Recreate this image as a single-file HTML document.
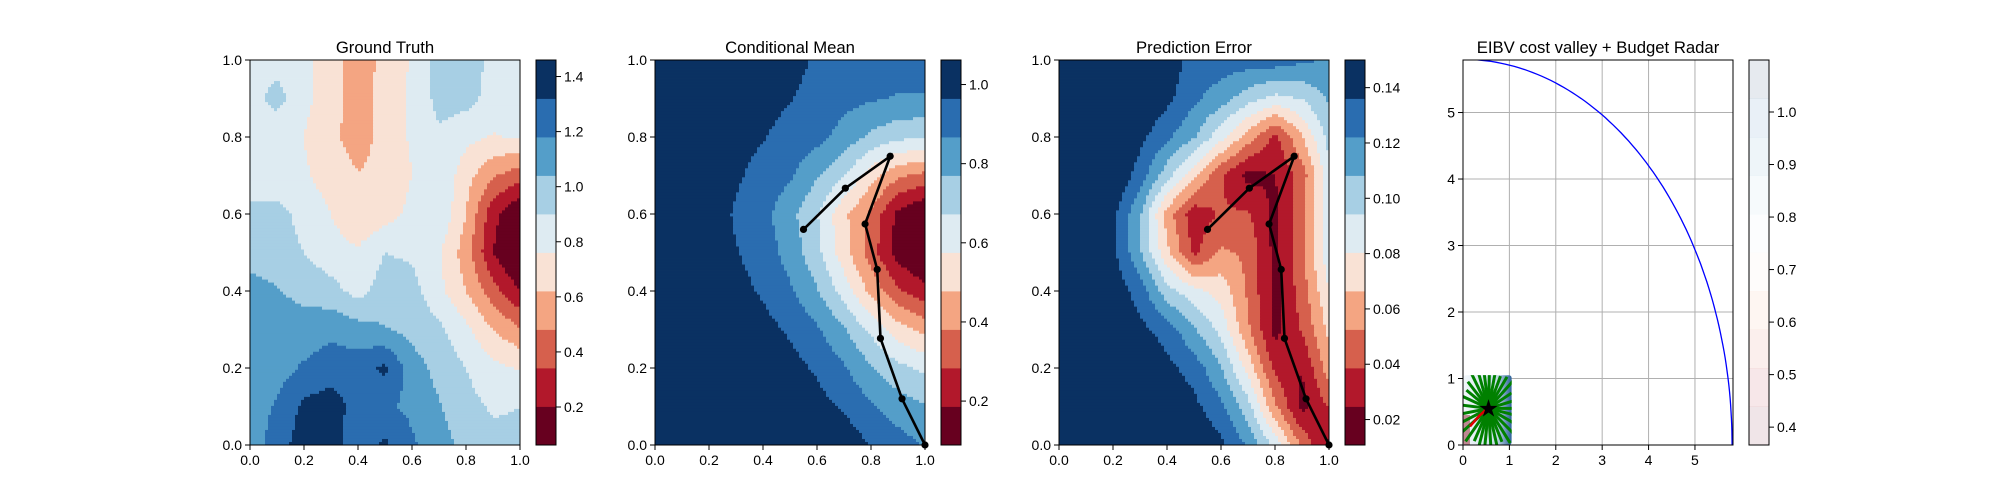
<!DOCTYPE html>
<html><head><meta charset="utf-8"><style>
html,body{margin:0;padding:0;background:#fff;}
svg{display:block;font-family:"Liberation Sans","DejaVu Sans",sans-serif;}
</style></head><body>
<svg id="fig" width="2000" height="500" viewBox="0 0 2000 500" xmlns="http://www.w3.org/2000/svg">
<rect width="2000" height="500" fill="#fff"/>
</svg>
<script>
// ---------- data ----------
const gtRows = [ // y = 1.0 down to 0.0, x = 0..1 step 0.1
[0.83,0.85,0.80,0.68,0.55,0.66,0.78,0.95,0.95,0.88,0.82],
[0.85,0.95,0.80,0.68,0.55,0.68,0.78,0.95,0.95,0.85,0.82],
[0.80,0.80,0.76,0.66,0.55,0.68,0.78,0.88,0.80,0.75,0.78],
[0.80,0.80,0.78,0.70,0.63,0.66,0.76,0.88,0.68,0.50,0.40],
[0.95,0.95,0.85,0.76,0.65,0.70,0.80,0.88,0.62,0.25,0.05],
[0.97,0.97,0.90,0.82,0.78,0.90,0.88,0.78,0.55,0.20,0.00],
[1.10,1.05,1.00,0.95,0.85,0.97,0.95,0.80,0.62,0.40,0.20],
[1.10,1.10,1.10,1.15,1.10,1.05,1.00,0.93,0.80,0.62,0.50],
[1.10,1.12,1.20,1.25,1.25,1.35,1.10,1.00,0.90,0.80,0.75],
[1.10,1.20,1.35,1.40,1.25,1.20,1.15,1.05,0.95,0.88,0.90],
[1.10,1.25,1.40,1.40,1.20,1.35,1.20,1.10,1.00,0.95,0.95]];
const cmRows = [
[1.05,1.05,1.05,1.05,1.05,1.00,0.95,0.93,0.92,0.92,0.92],
[1.05,1.05,1.05,1.05,1.00,0.97,0.93,0.90,0.88,0.86,0.86],
[1.05,1.05,1.05,1.00,0.97,0.93,0.90,0.83,0.75,0.70,0.68],
[1.05,1.05,1.05,0.98,0.93,0.88,0.78,0.68,0.52,0.40,0.35],
[1.05,1.05,1.03,0.95,0.90,0.80,0.68,0.50,0.36,0.16,0.08],
[1.05,1.05,1.03,0.97,0.92,0.83,0.70,0.52,0.33,0.14,0.06],
[1.05,1.05,1.05,1.00,0.95,0.88,0.78,0.63,0.45,0.30,0.22],
[1.05,1.05,1.05,1.05,1.00,0.95,0.88,0.78,0.65,0.52,0.45],
[1.05,1.05,1.05,1.05,1.05,1.00,0.95,0.88,0.78,0.70,0.65],
[1.05,1.05,1.05,1.05,1.05,1.05,1.00,0.95,0.88,0.82,0.78],
[1.05,1.05,1.05,1.05,1.05,1.05,1.05,1.03,0.96,0.91,0.86]];
const peRows = [
[.15,.15,.15,.15,.145,.13,.13,.13,.13,.125,.12],
[.15,.15,.15,.15,.14,.125,.115,.10,.09,.095,.11],
[.15,.15,.15,.14,.125,.11,.085,.06,.035,.065,.10],
[.15,.15,.15,.13,.10,.07,.04,.02,.025,.045,.09],
[.15,.15,.14,.11,.06,.03,.04,.04,.02,.05,.09],
[.15,.15,.14,.11,.07,.035,.055,.05,.02,.05,.09],
[.15,.15,.145,.13,.10,.085,.075,.05,.02,.045,.08],
[.15,.15,.15,.14,.13,.11,.09,.055,.02,.04,.07],
[.15,.15,.15,.15,.14,.13,.11,.075,.035,.025,.06],
[.15,.15,.15,.15,.15,.14,.125,.10,.055,.02,.04],
[.15,.15,.15,.15,.15,.15,.14,.12,.09,.05,.02]];
const pathX = [0.55,0.705,0.871,0.778,0.823,0.835,0.915,1.0];
const pathY = [0.56,0.667,0.75,0.574,0.456,0.277,0.12,0.0];
const unitTicks = ["0.0","0.2","0.4","0.6","0.8","1.0"];
const gtCbTicks = [0.2,0.4,0.6,0.8,1.0,1.2,1.4];
const cmCbTicks = [0.2,0.4,0.6,0.8,1.0];
const peCbTicks = [0.02,0.04,0.06,0.08,0.10,0.12,0.14];
const radarCbTicks = [0.4,0.5,0.6,0.7,0.8,0.9,1.0];
const radarTicks = [0,1,2,3,4,5];
const radarRadius = 5.8;
const starX = 0.55, starY = 0.55;
const redCurveX = [0.15,0.25,0.35,0.45,0.52];
const redCurveY = [0.28,0.36,0.44,0.50,0.56];
const bushAngles = [0,12,25,38,50,62,75,88,100,112,125,138,150,162,175,188,200,212,225,238,250,262,275,288,300,312,325,338,350];
const bushLengths = [0.6,0.7,0.55,0.75,0.62,0.55,0.65,0.6,0.58,0.68,0.75,0.6,0.55,0.62,0.58,0.65,0.6,0.75,0.7,0.58,0.65,0.72,0.6,0.66,0.58,0.7,0.64,0.6,0.66];

const COLORS = ['#67001f','#b2182b','#d6604d','#f4a582','#f9e2d5','#deebf2','#a7cfe4','#549ec9','#2a6db0','#0a3162'];
const NS = 'http://www.w3.org/2000/svg';
const fig = document.getElementById('fig');
const TOP = 60, BOT = 445, W = 270, H = 385;
function el(tag, attrs, parent){const e=document.createElementNS(NS,tag);for(const k in attrs)e.setAttribute(k,attrs[k]);(parent||fig).appendChild(e);return e;}
function txt(x,y,s,anchor,size,parent){const t=el('text',{x:x,y:y,'text-anchor':anchor,'font-size':size,fill:'#000'},parent);t.textContent=s;return t;}

function bilinear(rows,x,y){
  const gx=x*10, gy=(1-y)*10;
  const i=Math.min(9,Math.floor(gx)), j=Math.min(9,Math.floor(gy));
  const fx=gx-i, fy=gy-j;
  const a=rows[j][i], b=rows[j][i+1], c=rows[j+1][i], d=rows[j+1][i+1];
  return a*(1-fx)*(1-fy)+b*fx*(1-fy)+c*(1-fx)*fy+d*fx*fy;
}
function drawField(name,left,rows,lo,hi){
  const g=el('g',{});
  
  
  const nx=90, ny=128, cw=W/nx, ch=H/ny;
  for(let r=0;r<ny;r++){
    const yv=1-(r+0.5)/ny;
    let runStart=0, runBand=-1;
    for(let c=0;c<=nx;c++){
      let band=-2;
      if(c<nx){const v=bilinear(rows,(c+0.5)/nx,yv);band=Math.max(0,Math.min(9,Math.floor((v-lo)/(hi-lo)*10)));}
      if(band!==runBand){
        if(runBand>=0){el('rect',{x:(left+runStart*cw).toFixed(2),y:(TOP+r*ch).toFixed(2),width:((c-runStart)*cw+0.4).toFixed(2),height:(ch+0.4).toFixed(2),fill:COLORS[runBand]},g);}
        runStart=c; runBand=band;
      }
    }
  }
}
function frame(left,name){
  const f=el('rect',{x:left,y:TOP,width:W,height:H,fill:'none',stroke:'#000','stroke-width':1});
  
  
}
function unitAxes(left){
  unitTicks.forEach((s,k)=>{
    const px=left+k*W/5, py=BOT-k*H/5;
    el('line',{x1:px,y1:BOT,x2:px,y2:BOT+5,stroke:'#000','stroke-width':1});
    const t=txt(px,BOT+20,s,'middle',14);
    
    
    el('line',{x1:left-5,y1:py,x2:left,y2:py,stroke:'#000','stroke-width':1});
    const u=txt(left-8,py+5,s,'end',14);
    
    
  });
}
function colorbar(left,lo,hi,ticks,fmt,name,faded){
  const g=el('g',{});
  
  
  const x=left+286, w=20;
  for(let b=0;b<10;b++){
    el('rect',{x:x,y:(BOT-(b+1)*H/10).toFixed(2),width:w,height:(H/10+0.4).toFixed(2),fill:COLORS[b],'fill-opacity':faded?0.1:1},g);
  }
  el('rect',{x:x,y:TOP,width:w,height:H,fill:'none',stroke:'#000','stroke-width':1},g);
  ticks.forEach(v=>{
    const py=BOT-(v-lo)/(hi-lo)*H;
    el('line',{x1:x+w,y1:py,x2:x+w+5,y2:py,stroke:'#000','stroke-width':1},g);
    const t=txt(x+w+8,py+5,v.toFixed(fmt),'start',14,g);
    
    
  });
}
function title(left,s){
  const t=txt(left+W/2,53,s,'middle',16.7);
  
  
}
function drawPath(left,name){
  const g=el('g',{});
  
  
  const pts=pathX.map((x,i)=>(left+x*W).toFixed(1)+','+(BOT-pathY[i]*H).toFixed(1)).join(' ');
  el('polyline',{points:pts,fill:'none',stroke:'#000','stroke-width':2.6},g);
  pathX.forEach((x,i)=>{
    const c=el('circle',{cx:left+x*W,cy:BOT-pathY[i]*H,r:3.6,fill:'#000'},g);
    
    
  });
}

const L1=250, L2=655, L3=1059, L4=1463;
drawField('ground-truth-field',L1,gtRows,0.062,1.46);
frame(L1,'ground-truth-axes'); unitAxes(L1); title(L1,'Ground Truth');
colorbar(L1,0.062,1.46,gtCbTicks,1,'ground-truth-colorbar',false);
drawField('conditional-mean-field',L2,cmRows,0.089,1.062);
drawPath(L2,'conditional-mean-path');
frame(L2,'conditional-mean-axes'); unitAxes(L2); title(L2,'Conditional Mean');
colorbar(L2,0.089,1.062,cmCbTicks,1,'conditional-mean-colorbar',false);
drawField('prediction-error-field',L3,peRows,0.0108,0.150);
drawPath(L3,'prediction-error-path');
frame(L3,'prediction-error-axes'); unitAxes(L3); title(L3,'Prediction Error');
colorbar(L3,0.0108,0.150,peCbTicks,2,'prediction-error-colorbar',false);

// Panel 4
const XMAX=5.82, YMAX=5.79;
const sx=v=>L4+v/XMAX*W, sy=v=>BOT-v/YMAX*H;
const defs=el('defs',{});
const cp=el('clipPath',{id:'clip4'},defs); el('rect',{x:L4,y:TOP,width:W,height:H},cp);
const cpi=el('clipPath',{id:'clipInset'},defs); el('rect',{x:sx(0),y:sy(1.05),width:sx(1.05)-sx(0),height:sy(0)-sy(1.05),rx:3},cpi);
const grad=el('linearGradient',{id:'mini',x1:0,y1:0,x2:1,y2:0},defs);
el('stop',{offset:'0','stop-color':'#f4f8fb'},grad);el('stop',{offset:'0.7','stop-color':'#c4dcea'},grad);el('stop',{offset:'1','stop-color':'#2a5f98'},grad);
radarTicks.forEach(v=>{
  const gx=el('line',{x1:sx(v),y1:TOP,x2:sx(v),y2:BOT,stroke:'#b0b0b0','stroke-width':1});
  
  
  const gy=el('line',{x1:L4,y1:sy(v),x2:L4+W,y2:sy(v),stroke:'#b0b0b0','stroke-width':1});
  
  
});
const mini=el('g',{'clip-path':'url(#clipInset)'});


el('rect',{x:sx(0),y:sy(1.05),width:sx(1.05)-sx(0),height:sy(0)-sy(1.05),fill:'url(#mini)'},mini);
el('rect',{x:sx(0),y:sy(0.45),width:sx(0.15)-sx(0),height:sy(0)-sy(0.45),fill:'#8b1a2a','fill-opacity':0.5},mini);
bushAngles.forEach((a,i)=>{
  const r=a*Math.PI/180, len=bushLengths[i];
  const ln=el('line',{x1:sx(starX),y1:sy(starY),x2:sx(starX+len*Math.cos(r)),y2:sy(starY+len*Math.sin(r)),stroke:'#008000','stroke-width':3},mini);
  
  
});
const red=el('polyline',{points:redCurveX.map((x,i)=>sx(x)+','+sy(redCurveY[i])).join(' '),fill:'none',stroke:'#e00000','stroke-width':2.5},mini);


const star=el('text',{x:sx(starX),y:sy(starY)+8,'text-anchor':'middle','font-size':24,fill:'#000'});
star.textContent='★';


const arcPts=[];
for(let k=0;k<=90;k++){const t=k*Math.PI/180;arcPts.push(sx(radarRadius*Math.cos(t)).toFixed(1)+','+sy(radarRadius*Math.sin(t)).toFixed(1));}
const arc=el('polyline',{points:arcPts.join(' '),fill:'none',stroke:'#0000ff','stroke-width':1.3,'clip-path':'url(#clip4)'});


frame(L4,'eibv-axes');
radarTicks.forEach(v=>{
  el('line',{x1:sx(v),y1:BOT,x2:sx(v),y2:BOT+5,stroke:'#000','stroke-width':1});
  const t=txt(sx(v),BOT+20,String(v),'middle',14);
  
  
  el('line',{x1:L4-5,y1:sy(v),x2:L4,y2:sy(v),stroke:'#000','stroke-width':1});
  const u=txt(L4-8,sy(v)+5,String(v),'end',14);
  
  
});
title(L4,'EIBV cost valley + Budget Radar');
colorbar(L4,0.366,1.099,radarCbTicks,1,'eibv-colorbar',true);
</script>
</body></html>
